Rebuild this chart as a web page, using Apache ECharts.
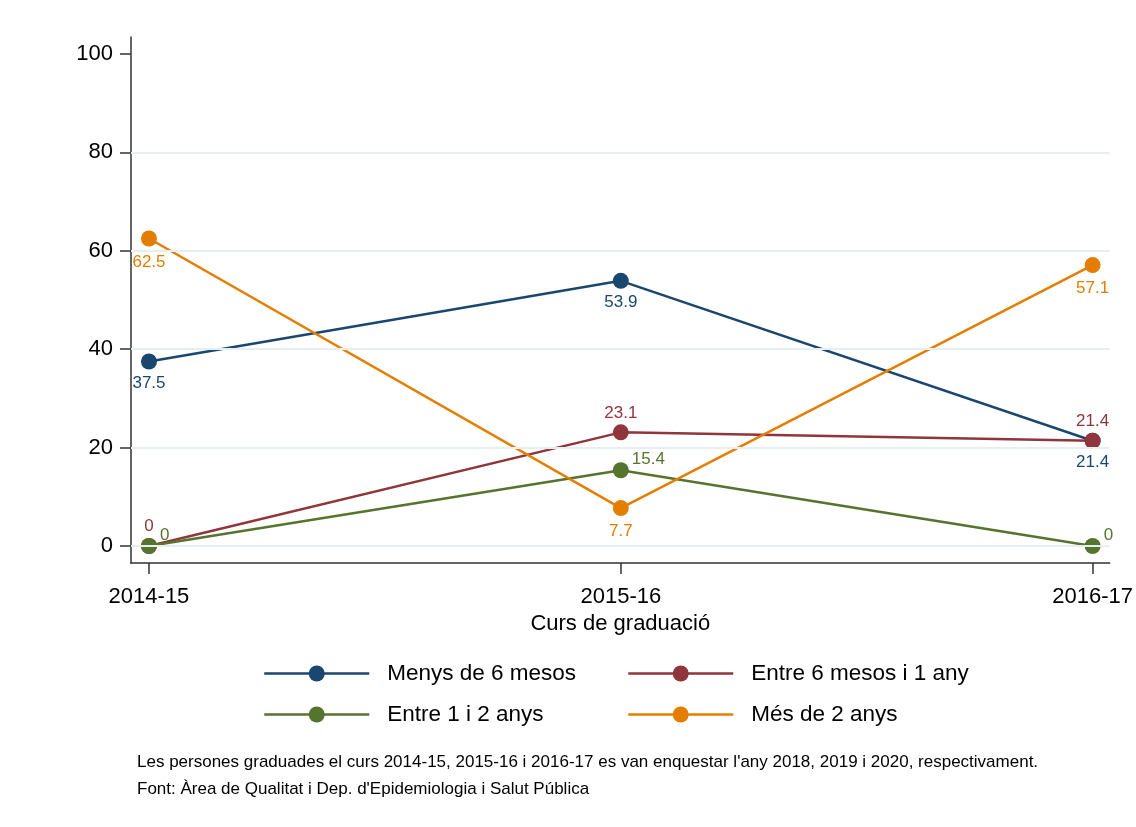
<!DOCTYPE html>
<html>
<head>
<meta charset="utf-8">
<script src="https://cdn.jsdelivr.net/npm/echarts@6/dist/echarts.min.js"></script>
<style>html,body{margin:0;padding:0;background:#fff}#c{width:1136px;height:827px}</style>
</head>
<body>
<div id="c"></div>
<script>
var categories = ['2014-15', '2015-16', '2016-17'];
var menys6 = [37.5, 53.9, 21.4];
var entre6i1 = [0, 23.1, 21.4];
var entre1i2 = [0, 15.4, 0];
var mes2 = [62.5, 7.7, 57.1];
var seriesNames = ['Menys de 6 mesos', 'Entre 6 mesos i 1 any', 'Entre 1 i 2 anys', 'Més de 2 anys'];
var yTicks = [0, 20, 40, 60, 80, 100];
var gridValues = [0, 20, 40, 60, 80];
var footnotes = [
  "Les persones graduades el curs 2014-15, 2015-16 i 2016-17 es van enquestar l'any 2018, 2019 i 2020, respectivament.",
  "Font: Àrea de Qualitat i Dep. d'Epidemiologia i Salut Pública"
];
var xTitle = 'Curs de graduació';

var FONT = "'Liberation Sans', Arial, sans-serif";
var colors = ['#1a476f', '#90353b', '#55752f', '#e37e00'];
var xIdx = categories.map(function (c, i) { return i; });
function pts(arr) { return arr.map(function (v, i) { return [i, v]; }); }

function mkSeries(name, data, color, label) {
  return {
    name: name, type: 'line', data: pts(data), z: 3,
    symbol: 'circle', symbolSize: 16,
    itemStyle: { color: color },
    lineStyle: { color: color, width: 2.5 },
    label: Object.assign({ show: true, color: color, fontSize: 17, fontFamily: FONT }, label),
    emphasis: { disabled: true },
    animation: false
  };
}

function mkLegend(names, left) {
  return { data: names, orient: 'vertical', left: left, top: 662,
    itemWidth: 105, itemHeight: 20, itemGap: 18, padding: 0,
    lineStyle: { width: 2.5 },
    textStyle: { fontSize: 22.5, color: '#000', fontFamily: FONT, padding: [0, 0, 0, 13] } };
}

var chart = echarts.init(document.getElementById('c'), null, { renderer: 'canvas' });
chart.setOption({
  backgroundColor: '#fff',
  animation: false,
  textStyle: { fontFamily: FONT },
  title: footnotes.map(function (t, i) {
    return { text: t, left: 137, top: 754 + i * 27, padding: 0,
      textStyle: { fontSize: 17, fontWeight: 'normal', color: '#000', fontFamily: FONT } };
  }),
  grid: { left: 131, right: 26, top: 37, bottom: 827 - 563 },
  xAxis: {
    type: 'value', min: -0.0381, max: 2.036,
    name: xTitle, nameLocation: 'middle', nameGap: 34,
    nameTextStyle: { fontSize: 22, color: '#000', fontFamily: FONT },
    axisLine: { show: true, onZero: false, lineStyle: { color: '#333', width: 1.5 } },
    axisTick: { show: true, length: 11, customValues: xIdx, lineStyle: { color: '#333', width: 1.5 } },
    axisLabel: { customValues: xIdx, margin: 23, fontSize: 22, color: '#000', fontFamily: FONT,
      formatter: function (v) { return categories[Math.round(v)] || ''; } },
    splitLine: { show: false }
  },
  yAxis: {
    type: 'value', min: -3.455, max: 103.46,
    axisLine: { show: true, onZero: false, lineStyle: { color: '#333', width: 1.5 } },
    axisTick: { show: true, length: 11, customValues: yTicks, lineStyle: { color: '#333', width: 1.5 } },
    axisLabel: { customValues: yTicks, margin: 18, fontSize: 22, color: '#000', fontFamily: FONT },
    splitLine: { show: false }
  },
  legend: [
    mkLegend([seriesNames[0], seriesNames[2]], 263),
    mkLegend([seriesNames[1], seriesNames[3]], 627)
  ],
  series: [
    { type: 'line', data: [], z: 1, silent: true,
      markLine: { silent: true, symbol: 'none', label: { show: false },
        lineStyle: { color: '#e6eef1', width: 2, type: 'solid' },
        emphasis: { disabled: true },
        data: gridValues.map(function (v) { return { yAxis: v }; }) } },
    mkSeries(seriesNames[0], menys6, colors[0], { position: 'bottom', distance: 5 }),
    mkSeries(seriesNames[1], entre6i1, colors[1], { position: 'top', distance: 3 }),
    mkSeries(seriesNames[2], entre1i2, colors[2], { position: 'right', distance: 3, offset: [0, -11] }),
    mkSeries(seriesNames[3], mes2, colors[3], { position: 'bottom', distance: 7 })
  ]
});
</script>
</body>
</html>
